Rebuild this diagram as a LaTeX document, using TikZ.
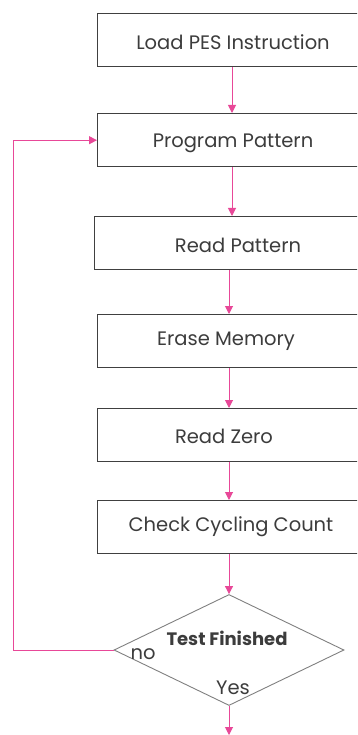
\documentclass[tikz,border=0pt]{standalone}
\usepackage{fontspec}
\setmainfont{Poppins}
\usetikzlibrary{arrows.meta,shapes.geometric}
\definecolor{flowpink}{RGB}{232,72,152}
\definecolor{boxgray}{RGB}{64,64,64}
\definecolor{txtgray}{RGB}{60,60,60}
\definecolor{diagray}{RGB}{128,128,128}
\tikzset{
  stepbox/.style={draw=boxgray, line width=1.4pt, rectangle, anchor=north west,
    minimum width=290pt, minimum height=53pt, inner sep=0pt},
  steptext/.style={text=txtgray, font=\fontsize{19.5}{21}\selectfont, inner sep=0pt},
  flow/.style={draw=flowpink, line width=1pt, -{Triangle[width=8pt,length=8pt]}},
  decision/.style={draw=diagray, line width=0.9pt, diamond, minimum width=230pt,
    minimum height=111pt, inner sep=0pt},
}
\begin{document}
\begin{tikzpicture}[x=1pt,y=-1pt]
  \useasboundingbox (0,0) rectangle (357,735);
  \clip (0,0) rectangle (357,735);
  \fill[white] (0,0) rectangle (357,735);

  % process steps
  \node[stepbox] (b1) at (97,13) {};
  \node[stepbox] (b2) at (97,113) {};
  \node[stepbox] (b3) at (94,216) {};
  \node[stepbox] (b4) at (97,314) {};
  \node[stepbox] (b5) at (97,408) {};
  \node[stepbox] (b6) at (97,500) {};

  \node[steptext] (t1) at (233,42) {Load PES Instruction};
  \node[steptext] (t2) at (233,143) {Program Pattern};
  \node[steptext] (t3) at (238,245) {Read Pattern};
  \node[steptext] (t4) at (226,341) {Erase Memory};
  \node[steptext] (t5) at (224,436) {Read Zero};
  \node[steptext] (t6) at (231,527) {Check Cycling Count};

  % decision
  \node[decision] (d) at (229,650) {};
  \node[text=txtgray, font=\bfseries\fontsize{18}{20}\selectfont, inner sep=0pt] (dt) at (227,638) {Test Finished};
  \node[text=txtgray, font=\fontsize{19.5}{21}\selectfont, inner sep=0pt] (no) at (143,654) {no};
  \node[text=txtgray, font=\fontsize{19.5}{21}\selectfont, inner sep=0pt] (yes) at (233,688) {Yes};
  \coordinate (out) at (229,735);
  \coordinate (loop) at (13,0);

  % connectors
  \draw[flow] ([xshift=135pt]b1.south west) -- ([xshift=135pt]b2.north west);
  \draw[flow] ([xshift=135pt]b2.south west) -- ([xshift=138pt]b3.north west);
  \draw[flow] ([xshift=135pt]b3.south west) -- ([xshift=132pt]b4.north west);
  \draw[flow] ([xshift=132pt]b4.south west) -- ([xshift=132pt]b5.north west);
  \draw[flow] ([xshift=132pt]b5.south west) -- ([xshift=132pt]b6.north west);
  \draw[flow] ([xshift=132pt]b6.south west) -- (d.north);
  \draw[flow] (d.south) -- (out);
  \draw[flow] (d.west) -| (loop |- b2.west) -- (b2.west);
\end{tikzpicture}
\end{document}
